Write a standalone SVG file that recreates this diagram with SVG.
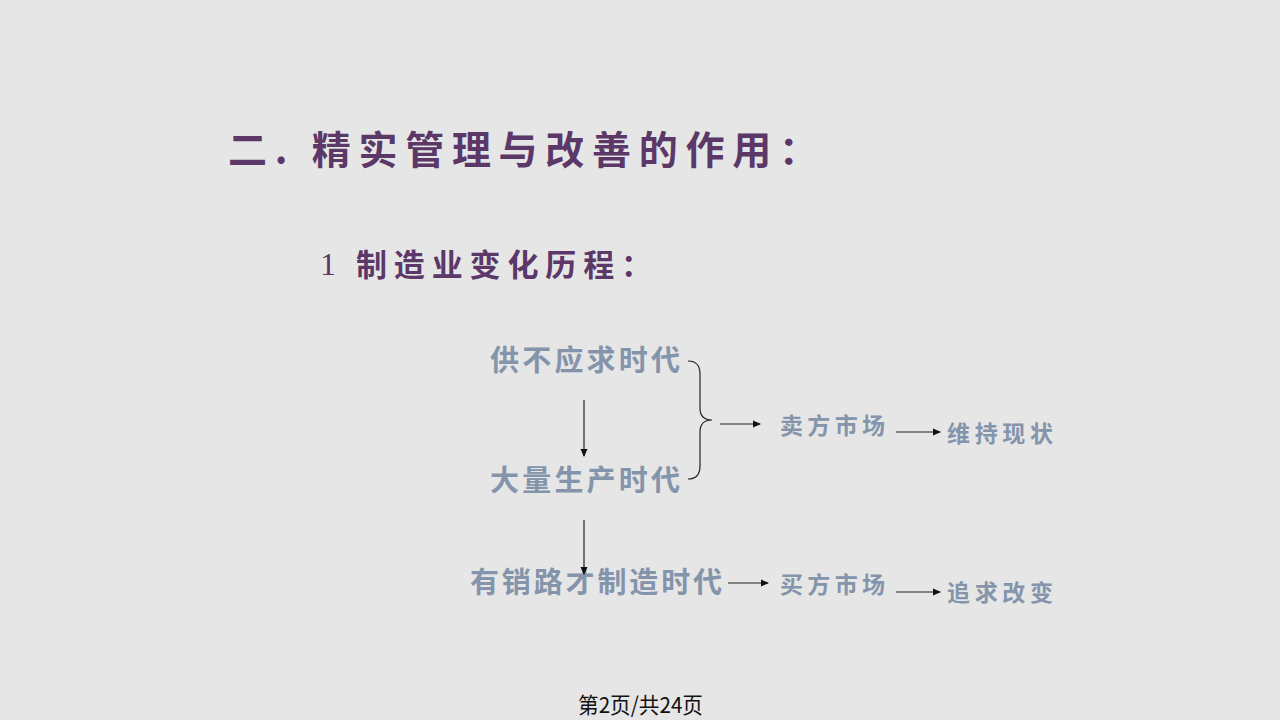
<svg xmlns="http://www.w3.org/2000/svg" width="1280" height="720" viewBox="0 0 1280 720">
<defs>
<style>
.h{font-family:"Noto Sans CJK SC","Noto Sans",sans-serif;font-weight:bold;fill:#5b3868}
.n{font-family:"Noto Sans CJK SC","Noto Sans",sans-serif;font-weight:bold;fill:#8494ab}
.c{stroke:#222;stroke-width:1.2;fill:none}
.f{font-family:"Noto Sans CJK SC","Noto Sans",sans-serif;fill:#111}
</style>
<marker id="a" markerWidth="8" markerHeight="8" refX="7" refY="4" orient="auto" markerUnits="userSpaceOnUse">
<path d="M0,0.5 L8,4 L0,7.5 Z" fill="#111"/>
</marker>
</defs>
<rect width="1280" height="720" fill="#e6e6e6"/>
<g id="title">
<text class="h" x="228" y="164" font-size="39" textLength="590" lengthAdjust="spacing">二. 精实管理与改善的作用：</text>
</g>
<g id="subtitle">
<text x="320" y="275" font-family="Liberation Serif,serif" font-size="32" fill="#5b3868">1</text>
<text class="h" x="356" y="276" font-size="31" textLength="296" lengthAdjust="spacing">制造业变化历程：</text>
</g>
<g id="n1"><text class="n" x="490" y="371" font-size="29" textLength="190" lengthAdjust="spacing">供不应求时代</text></g>
<g id="n2"><text class="n" x="490" y="491" font-size="29" textLength="190" lengthAdjust="spacing">大量生产时代</text></g>
<g id="n3"><text class="n" x="470" y="593" font-size="29" textLength="252" lengthAdjust="spacing">有销路才制造时代</text></g>
<g id="n4"><text class="n" x="780" y="434" font-size="23" textLength="105" lengthAdjust="spacing">卖方市场</text></g>
<g id="n5"><text class="n" x="947" y="442" font-size="23" textLength="106" lengthAdjust="spacing">维持现状</text></g>
<g id="n6"><text class="n" x="780" y="593" font-size="23" textLength="105" lengthAdjust="spacing">买方市场</text></g>
<g id="n7"><text class="n" x="947" y="601" font-size="23" textLength="106" lengthAdjust="spacing">追求改变</text></g>
<g id="connectors">
<path class="c" d="M688,361 Q700,361 700,374 L700,408 Q700,420 712,420 Q700,420 700,432 L700,466 Q700,479 688,479"/>
<line class="c" x1="584" y1="400" x2="584" y2="456" marker-end="url(#a)"/>
<line class="c" x1="584" y1="520" x2="584" y2="574" marker-end="url(#a)"/>
<line class="c" x1="720" y1="424" x2="760" y2="424" marker-end="url(#a)"/>
<line class="c" x1="896" y1="432" x2="940" y2="432" marker-end="url(#a)"/>
<line class="c" x1="728" y1="583" x2="768" y2="583" marker-end="url(#a)"/>
<line class="c" x1="896" y1="592" x2="940" y2="592" marker-end="url(#a)"/>
</g>
<g id="footer"><text class="f" x="578" y="713" font-size="22" textLength="125" lengthAdjust="spacingAndGlyphs">第2页/共24页</text></g>
</svg>
